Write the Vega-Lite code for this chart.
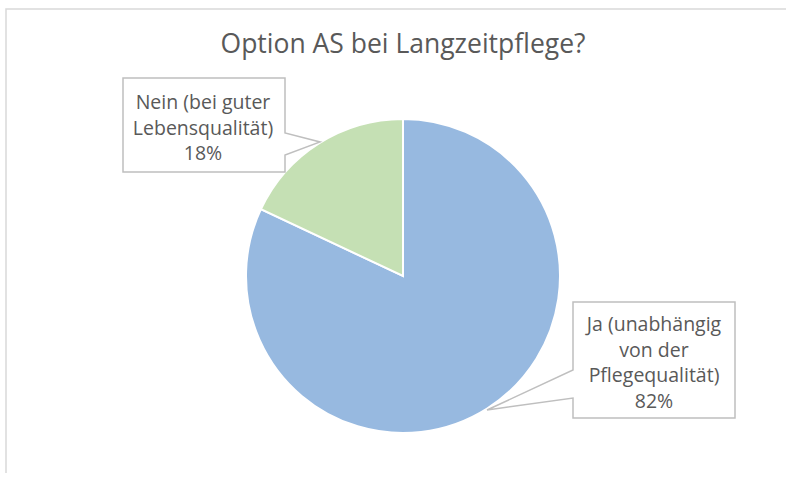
{
  "$schema": "https://vega.github.io/schema/vega-lite/v6.json",
  "autosize": {"type": "none"},
  "width": 794,
  "height": 534,
  "padding": {"left": 6, "top": 9, "right": -14, "bottom": -70},
  "background": "white",
  "config": {
    "view": {"stroke": null},
    "font": "Open Sans"
  },
  "data": {
    "values": [
      {"answer": "Ja (unabhängig\nvon der\nPflegequalität)", "share": 82, "question": "Option AS bei Langzeitpflege?"},
      {"answer": "Nein (bei guter\nLebensqualität)", "share": 18, "question": "Option AS bei Langzeitpflege?"}
    ]
  },
  "transform": [
    {"calculate": "datum.answer + '\\n' + datum.share + '%'", "as": "label"}
  ],
  "layer": [
    {
      "transform": [{"filter": "datum.share == 82"}],
      "mark": {"type": "point", "size": 4, "filled": false, "shape": "M-397,210V-267H390", "stroke": "#D9D9D9", "strokeWidth": 1.5, "opacity": 1},
      "encoding": {}
    },
    {
      "transform": [{"filter": "datum.share == 82"}],
      "mark": {"type": "text", "font": "Open Sans", "fontSize": 26.5, "color": "#595959", "align": "center", "baseline": "middle", "dy": -231},
      "encoding": {"text": {"field": "question"}}
    },
    {
      "mark": {"type": "arc", "outerRadius": 157, "stroke": "white", "strokeWidth": 2},
      "encoding": {
        "theta": {"field": "share", "type": "quantitative", "stack": true},
        "order": {"field": "share", "type": "quantitative", "sort": "descending"},
        "color": {
          "field": "answer",
          "type": "nominal",
          "scale": {"domain": ["Ja (unabhängig\nvon der\nPflegequalität)", "Nein (bei guter\nLebensqualität)"], "range": ["#97B9E0", "#C5E0B4"]},
          "legend": null
        }
      }
    },
    {
      "mark": {"type": "point", "size": 4, "filled": true, "fill": "white", "stroke": "#BFBFBF", "strokeWidth": 1.5, "opacity": 1},
      "encoding": {
        "shape": {
          "field": "answer",
          "type": "nominal",
          "scale": {
            "domain": ["Ja (unabhängig\nvon der\nPflegequalität)", "Nein (bei guter\nLebensqualität)"],
            "range": ["M170,26H332V142H170V122L84,134L170,94Z", "M-280,-198H-118V-143L-83,-134L-118,-121V-104H-280Z"]
          },
          "legend": null
        }
      }
    },
    {
      "transform": [{"filter": "datum.share == 18"}],
      "mark": {"type": "text", "lineBreak": "\n", "font": "Open Sans", "fontSize": 19.5, "color": "#595959", "align": "center", "baseline": "middle", "lineHeight": 25.5, "dx": -200, "dy": -173},
      "encoding": {"text": {"field": "label"}}
    },
    {
      "transform": [{"filter": "datum.share == 82"}],
      "mark": {"type": "text", "lineBreak": "\n", "font": "Open Sans", "fontSize": 19.5, "color": "#595959", "align": "center", "baseline": "middle", "lineHeight": 25.5, "dx": 251, "dy": 49},
      "encoding": {"text": {"field": "label"}}
    }
  ]
}
